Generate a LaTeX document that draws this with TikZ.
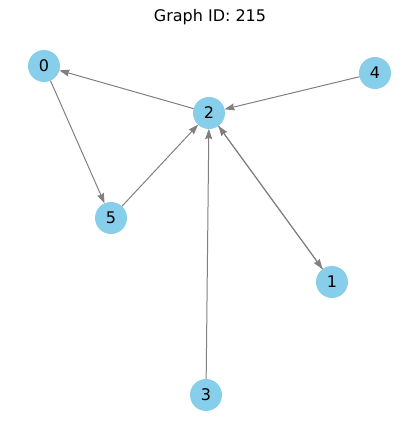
\documentclass[tikz,border=0pt]{standalone}
\usepackage{fontspec}
\setmainfont{DejaVu Sans}
\usetikzlibrary{arrows.meta}
\begin{document}
\begin{tikzpicture}[x=1pt,y=-1pt,
  vert/.style={circle,fill=nodeblue,minimum size=32pt,inner sep=0pt,outer sep=0pt,font=\fontsize{16}{19}\selectfont},
  edge/.style={draw=gray,line width=1pt,-{Stealth[length=10pt,width=7pt,inset=1pt]}}]
\definecolor{nodeblue}{HTML}{87CEEB}
\useasboundingbox (0,0) rectangle (419,440);
\node[font=\fontsize{16}{19}\selectfont] (title) at (210,17) {Graph ID: 215};
\node[vert] (n0) at (44,66) {0};
\node[vert] (n2) at (209,113) {2};
\node[vert] (n4) at (375,73) {4};
\node[vert] (n5) at (111,218) {5};
\node[vert] (n1) at (332,282) {1};
\node[vert] (n3) at (206,395) {3};
\draw[edge] (n2) -- (n0);
\draw[edge] (n0) -- (n5);
\draw[edge] (n4) -- (n2);
\draw[edge] (n5) -- (n2);
\draw[edge] (n3) -- (n2);
\draw[edge] (n2) -- (n1);
\draw[edge] (n1) -- (n2);
\end{tikzpicture}
\end{document}
